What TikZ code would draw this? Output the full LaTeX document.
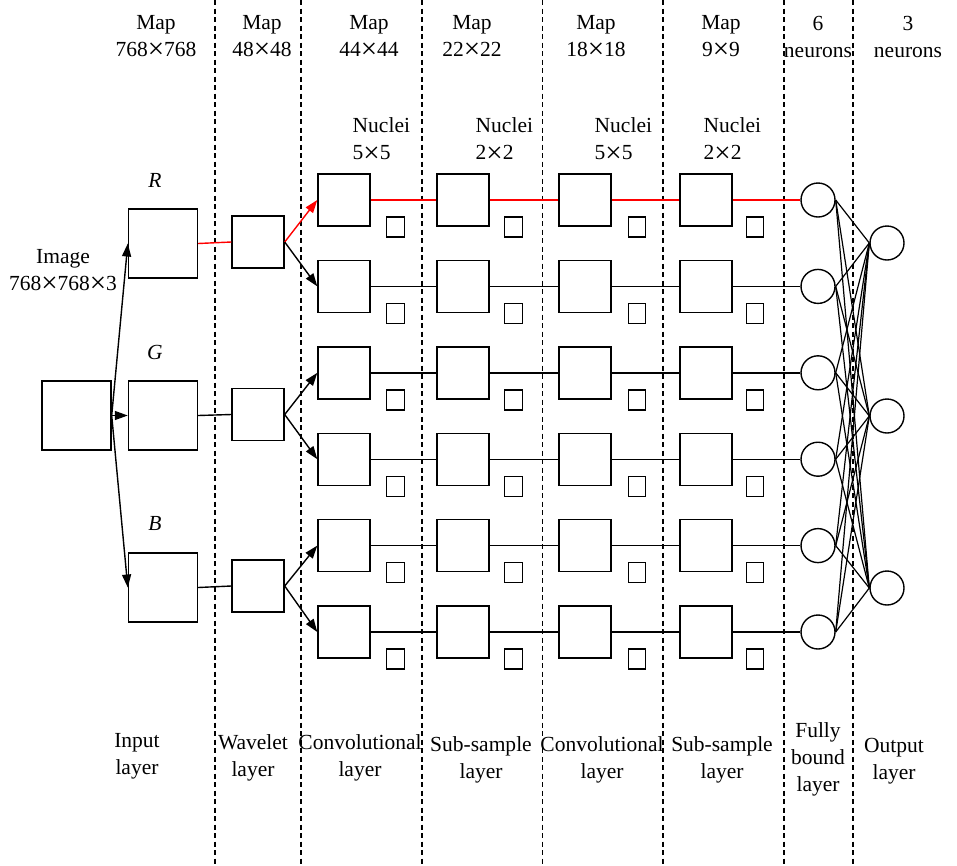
\documentclass[tikz,border=0pt]{standalone}
\usepackage{fontspec}
\setmainfont{Liberation Serif}
\newfontfamily\tmfont{Liberation Serif}
\usetikzlibrary{arrows.meta}
\newcommand{\X}{\makebox[0.76em]{\raisebox{-0.1em}{\scalebox{1.35}{×}}}}
\begin{document}
\begin{tikzpicture}[x=1pt,y=-1pt, line width=1.4pt,
  every node/.style={font=\tmfont\fontsize{21.5}{27}\selectfont},
  lbl/.style={align=center, inner sep=0pt},
  nlbl/.style={align=left, anchor=west, inner sep=0pt},
  inbox/.style={draw, minimum width=69pt, minimum height=69pt, inner sep=0pt},
  wbox/.style={draw, minimum width=52pt, minimum height=52pt, inner sep=0pt},
  sbox/.style={draw, minimum width=17.5pt, minimum height=20pt, inner sep=0pt},
  neuron/.style={draw, circle, minimum size=34pt, inner sep=0pt},
  sep/.style={dash pattern=on 5pt off 3.5pt, line width=1.3pt},
  arr/.style={-{Triangle[length=13pt,width=9pt]}}
]
\useasboundingbox (0,0) rectangle (957,865);

% dashed separators
\foreach \x in {215,301,422,542.5,663,784,853}
  \draw[sep] (\x,0) -- (\x,865);

% headers
\node[lbl] (h1) at (156,37) {Map\\768\X768};
\node[lbl] (h2) at (262,37) {Map\\48\X48};
\node[lbl] (h3) at (369,37) {Map\\44\X44};
\node[lbl] (h4) at (472,37) {Map\\22\X22};
\node[lbl] (h5) at (596,37) {Map\\18\X18};
\node[lbl] (h6) at (721,37) {Map\\9\X9};
\node[lbl] (h7) at (818,37) {6\\neurons};
\node[lbl] (h8) at (908,37) {3\\neurons};

% nuclei labels
\node[nlbl] (k1) at (352,140) {Nuclei\\5\X5};
\node[nlbl] (k2) at (475,140) {Nuclei\\2\X2};
\node[nlbl] (k3) at (594,140) {Nuclei\\5\X5};
\node[nlbl] (k4) at (703,140) {Nuclei\\2\X2};

% input side
\node[lbl] (imgl) at (63,271) {Image\\768\X768\X3};
\node[inbox] (img) at (76.5,415.5) {};
\node[lbl] (Rl) at (155,180) {\itshape R};
\node[lbl] (Gl) at (155,352) {\itshape G};
\node[lbl] (Bl) at (155,523) {\itshape B};
\node[inbox] (R) at (163,243.5) {};
\node[inbox] (G) at (163,415.5) {};
\node[inbox] (B) at (163,587.5) {};
\node[wbox] (wR) at (258,242) {};
\node[wbox] (wG) at (258,414.5) {};
\node[wbox] (wB) at (258,586) {};

\draw[arr] (img.east) -- (R.west);
\draw[arr] (img.east) -- (G.west);
\draw[arr] (img.east) -- (B.west);
\draw[red] (R.east) -- (wR.west);
\draw (G.east) -- (wG.west);
\draw (B.east) -- (wB.west);

% feature-map rows
\foreach \i/\y in {0/200,1/286.4,2/372.8,3/459.2,4/545.6,5/632}{
  \node[wbox] (a\i) at (344,\y) {};
  \node[wbox] (b\i) at (463,\y) {};
  \node[wbox] (c\i) at (585,\y) {};
  \node[wbox] (d\i) at (706,\y) {};
  \node[sbox] (sa\i) at (395.5,\y+27) {};
  \node[sbox] (sb\i) at (513.5,\y+27) {};
  \node[sbox] (sc\i) at (637,\y+27) {};
  \node[sbox] (sd\i) at (755,\y+27) {};
  \node[neuron] (n\i) at (818,\y) {};
}
\node[neuron] (o0) at (887,243) {};
\node[neuron] (o1) at (887,416) {};
\node[neuron] (o2) at (887,588) {};

\draw[arr,red] (wR.east) -- (a0.west);
\draw[arr] (wR.east) -- (a1.west);
\draw[arr] (wG.east) -- (a2.west);
\draw[arr] (wG.east) -- (a3.west);
\draw[arr] (wB.east) -- (a4.west);
\draw[arr] (wB.east) -- (a5.west);

\foreach \i/\c in {0/red,1/black,2/black,3/black,4/black,5/black}{
  \draw[draw=\c] (a\i.east) -- (b\i.west);
  \draw[draw=\c] (b\i.east) -- (c\i.west);
  \draw[draw=\c] (c\i.east) -- (d\i.west);
  \draw[draw=\c] (d\i.east) -- (n\i.west);
}
\foreach \i in {0,...,5}
  \foreach \j in {0,1,2}
    \draw[line width=1.2pt] (n\i.east) -- (o\j.west);

% bottom labels
\node[lbl] (L1) at (137,756) {Input\\layer};
\node[lbl] (L2) at (253,758) {Wavelet\\layer};
\node[lbl] (L3) at (360,758) {Convolutional\\layer};
\node[lbl] (L4) at (481,760) {Sub-sample\\layer};
\node[lbl] (L5) at (602,760) {Convolutional\\layer};
\node[lbl] (L6) at (722,760) {Sub-sample\\layer};
\node[lbl] (L7) at (818,759) {Fully\\bound\\layer};
\node[lbl] (L8) at (894,761) {Output\\layer};
\end{tikzpicture}
\end{document}
